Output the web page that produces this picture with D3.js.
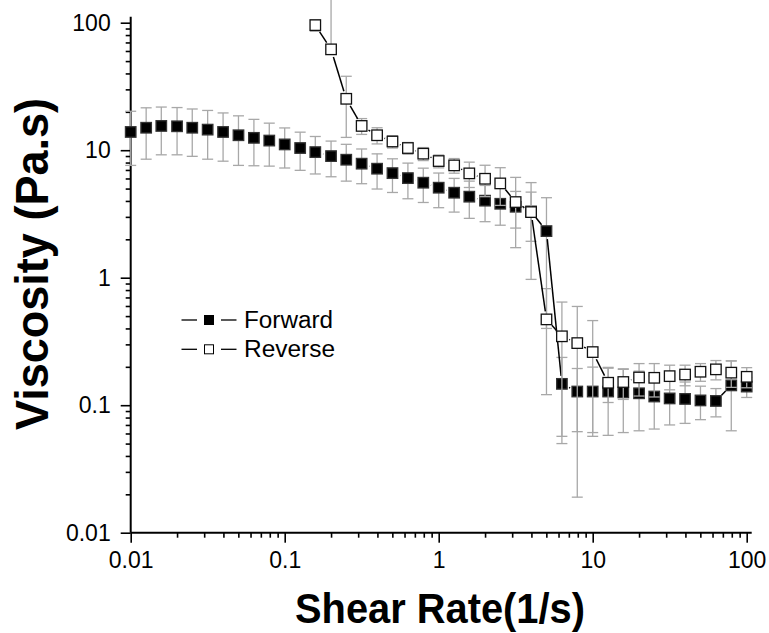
<!DOCTYPE html>
<html>
<head>
<meta charset="utf-8">
<script src="https://cdn.jsdelivr.net/npm/d3@7"></script>
<style>
  html, body { margin: 0; padding: 0; background: #fff; }
  svg { display: block; }
  text { font-family: "Liberation Sans", Arial, Helvetica, sans-serif; }
</style>
</head>
<body>
<svg id="chart" width="769" height="633"></svg>
<script>
// ---- data ----
const shearRate = [0.01, 0.0126, 0.0158, 0.02, 0.0251, 0.0316, 0.0398, 0.0501, 0.0631, 0.0794,
  0.1, 0.126, 0.158, 0.2, 0.251, 0.316, 0.398, 0.501, 0.631, 0.794,
  1, 1.26, 1.58, 2, 2.51, 3.16, 3.98, 5.01, 6.31, 7.94,
  10, 12.6, 15.8, 20, 25.1, 31.6, 39.8, 50.1, 63.1, 79.4, 100];

const forwardViscosity = [13.9, 15.0, 15.5, 15.4, 15.0, 14.5, 13.9, 13.1, 12.5, 11.9,
  11.1, 10.4, 9.66, 8.99, 8.42, 7.84, 7.16, 6.61, 6.04, 5.56,
  5.08, 4.64, 4.32, 4.02, 3.80, 3.60, 3.31, 2.32, 0.147, 0.128,
  0.128, 0.128, 0.126, 0.124, 0.117, 0.113, 0.112, 0.109, 0.108, 0.143, 0.140];

const forwardError = [6.3, 6.5, 6.3, 6.2, 6.05, 6.0, 5.7, 5.5, 4.95, 4.4,
  3.85, 3.45, 3.15, 2.8, 2.7, 2.38, 2.2, 1.95, 1.88, 1.67,
  1.54, 1.37, 1.4, 1.27, 1.22, 1.15, 1.38, 1.92, 0.09, 0.066,
  0.071, 0.07, 0.065, 0.061, 0.052, 0.043, 0.040, 0.032, 0.027, 0.080, 0.025];

const reverseViscosity = [null, null, null, null, null, null, null, null, null, null,
  null, null, 95.7, 61.8, 25.3, 15.5, 13.1, 11.7, 10.4, 9.39,
  8.22, 7.60, 6.58, 5.97, 5.49, 3.92, 3.27, 0.471, 0.347, 0.307,
  0.261, 0.150, 0.152, 0.165, 0.164, 0.169, 0.174, 0.183, 0.191, 0.180, 0.167];

const reverseError = [null, null, null, null, null, null, null, null, null, null,
  null, null, 10, 140, 12.7, 2.2, 1.9, 1.3, 1.1, 1.1,
  0.95, 1.0, 1.48, 1.65, 1.8, 2.2, 2.3, 0.35, 0.297, 0.288,
  0.2, 0.045, 0.041, 0.047, 0.048, 0.037, 0.032, 0.029, 0.033, 0.042, 0.030];

const majorTicks = [0.01, 0.1, 1, 10, 100];
const xTickLabels = ["0.01", "0.1", "1", "10", "100"];
const yTickLabels = ["0.01", "0.1", "1", "10", "100"];
const seriesNames = ["Forward", "Reverse"];
const xTitle = "Shear Rate(1/s)";
const yTitle = "Viscosity (Pa.s)";

// ---- drawing ----
const svg = d3.select("#chart");
const x = d3.scaleLog().domain([0.01, 100]).range([130.7, 746.7]);
const y = d3.scaleLog().domain([0.01, 100]).range([532.7, 22.7]);

const minorTicks = [];
for (let e = -2; e < 2; e++) for (let m = 2; m <= 9; m++) minorTicks.push(m * Math.pow(10, e));

const AX = "#000";
// minor ticks
const gxMinor = svg.append("g").attr("transform", `translate(0,${y.range()[0]})`)
  .call(d3.axisBottom(x).tickValues(minorTicks).tickSize(5).tickFormat(""));
const gyMinor = svg.append("g").attr("transform", `translate(${x.range()[0]},0)`)
  .call(d3.axisLeft(y).tickValues(minorTicks).tickSize(5).tickFormat(""));
// major ticks
const gx = svg.append("g").attr("transform", `translate(0,${y.range()[0]})`)
  .call(d3.axisBottom(x).tickValues(majorTicks).tickSize(10).tickPadding(9)
    .tickFormat((d, i) => xTickLabels[i]));
const gy = svg.append("g").attr("transform", `translate(${x.range()[0]},0)`)
  .call(d3.axisLeft(y).tickValues(majorTicks).tickSize(10).tickPadding(10)
    .tickFormat((d, i) => yTickLabels[i]));

[gxMinor, gyMinor, gx, gy].forEach(g => {
  g.select(".domain").remove();
  g.selectAll(".tick line").attr("stroke", AX).attr("stroke-width", 1.6);
});
[gx, gy].forEach(g => {
  g.selectAll(".tick text").attr("fill", "#000").style("font-size", "23px")
    .style("font-family", '"Liberation Sans", Arial, sans-serif');
});

// axis lines
svg.append("line").attr("x1", x.range()[0]).attr("x2", x.range()[1] + 5)
  .attr("y1", y.range()[0]).attr("y2", y.range()[0])
  .attr("stroke", AX).attr("stroke-width", 2);
svg.append("line").attr("x1", x.range()[0]).attr("x2", x.range()[0])
  .attr("y1", y.range()[0]).attr("y2", y.range()[1] - 6)
  .attr("stroke", AX).attr("stroke-width", 2);

// helpers
function buildPoints(vals, errs) {
  const pts = [];
  shearRate.forEach((r, i) => {
    if (vals[i] != null) pts.push({ r, v: vals[i], e: errs[i] });
  });
  return pts;
}
const fwd = buildPoints(forwardViscosity, forwardError);
const rev = buildPoints(reverseViscosity, reverseError);

const MS = 10.5;    // marker size
const GAP = 8;      // line gap radius around markers
const ERR = "#a8a8a8";

function drawErrors(pts) {
  const g = svg.append("g").attr("stroke", ERR).attr("stroke-width", 1.3).attr("fill", "none");
  pts.forEach(p => {
    const cx = x(p.r);
    const top = y(p.v + p.e);
    const lowVal = p.v - p.e;
    const bot = lowVal > 0 ? y(lowVal) : y(p.v);
    g.append("line").attr("x1", cx).attr("x2", cx).attr("y1", top).attr("y2", bot);
    g.append("line").attr("x1", cx - 5.5).attr("x2", cx + 5.5).attr("y1", top).attr("y2", top);
    if (lowVal > 0)
      g.append("line").attr("x1", cx - 5.5).attr("x2", cx + 5.5).attr("y1", bot).attr("y2", bot);
  });
}
function drawLine(pts) {
  const g = svg.append("g").attr("stroke", "#000").attr("stroke-width", 1.5);
  for (let i = 0; i < pts.length - 1; i++) {
    const x1 = x(pts[i].r), y1 = y(pts[i].v), x2 = x(pts[i + 1].r), y2 = y(pts[i + 1].v);
    const dx = x2 - x1, dy = y2 - y1, L = Math.hypot(dx, dy);
    if (L <= 2 * GAP) continue;
    const ux = dx / L, uy = dy / L;
    g.append("line").attr("x1", x1 + ux * GAP).attr("y1", y1 + uy * GAP)
      .attr("x2", x2 - ux * GAP).attr("y2", y2 - uy * GAP);
  }
}
function drawMarkers(pts, filled) {
  svg.append("g").selectAll("rect").data(pts).join("rect")
    .attr("x", d => x(d.r) - MS / 2).attr("y", d => y(d.v) - MS / 2)
    .attr("width", MS).attr("height", MS)
    .attr("fill", filled ? "#000" : "#fff")
    .attr("stroke", filled ? "#333" : "#111").attr("stroke-width", 1.3);
}

drawErrors(fwd);
drawLine(fwd);
drawMarkers(fwd, true);
drawErrors(rev);
drawLine(rev);
drawMarkers(rev, false);

// legend
const legend = svg.append("g");
seriesNames.forEach((name, i) => {
  const ly = 320 + i * 29.3;
  const gl = legend.append("g");
  gl.append("line").attr("x1", 181.5).attr("x2", 197).attr("y1", ly).attr("y2", ly)
    .attr("stroke", "#000").attr("stroke-width", 1.3);
  gl.append("line").attr("x1", 221).attr("x2", 236.5).attr("y1", ly).attr("y2", ly)
    .attr("stroke", "#000").attr("stroke-width", 1.3);
  gl.append("rect").attr("x", 209 - 4.5).attr("y", ly - 4.5).attr("width", 9).attr("height", 9)
    .attr("fill", i === 0 ? "#000" : "#fff").attr("stroke", "#000").attr("stroke-width", 1);
  gl.append("text").attr("x", 244).attr("y", ly + 8).text(name)
    .attr("font-size", 23).attr("fill", "#000")
    .attr("textLength", i === 0 ? 89 : 91).attr("lengthAdjust", "spacingAndGlyphs");
});

// titles
svg.append("text").attr("x", 440).attr("y", 623).attr("text-anchor", "middle")
  .attr("font-size", 42).attr("font-weight", "bold").attr("fill", "#000")
  .attr("textLength", 290).attr("lengthAdjust", "spacingAndGlyphs")
  .text(xTitle);
svg.append("text").attr("transform", "translate(48,264) rotate(-90)")
  .attr("text-anchor", "middle")
  .attr("font-size", 46).attr("font-weight", "bold").attr("fill", "#000")
  .attr("textLength", 332).attr("lengthAdjust", "spacingAndGlyphs")
  .text(yTitle);
</script>
</body>
</html>
